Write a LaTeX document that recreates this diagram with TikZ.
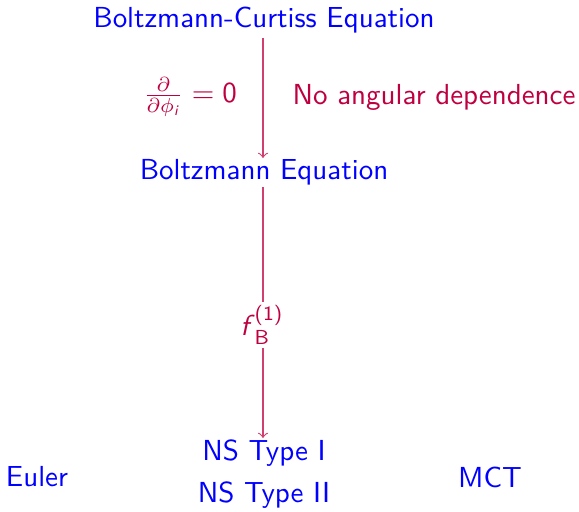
\documentclass[tikz,border=0pt]{standalone}
\usepackage{amsmath}
\usepackage[no-math]{fontspec}
\definecolor{myred}{RGB}{191,0,64}
\newcommand{\sv}[1]{\text{\sffamily\upshape #1}}
\newcommand{\si}[1]{\text{\sffamily\itshape #1\/}}
\tikzset{
  lbl/.style={text=blue, font=\sffamily, inner sep=1pt},
  rlbl/.style={text=myred, font=\sffamily, inner sep=1pt},
  conn/.style={draw=myred!75, line width=0.4pt, -to},
}
\begin{document}
\begin{tikzpicture}[x=0.345pt,y=-0.345pt]
\useasboundingbox (0,0) rectangle (579,512);
\node[lbl] (bc) at (264,20) {Boltzmann-Curtiss Equation};
\node[rlbl] (frac) at (190,97) {$\frac{\partial}{\partial\phi_{\si{i}}}=\sv{0}$};
\node[rlbl] (noang) at (434,97) {No angular dependence};
\node[lbl] (be) at (264,172) {Boltzmann Equation};
\node[rlbl, fill=white] (fb) at (262,325) {$\si{f}_{\sv{B}}^{\sv{(1)}}$};
\node[lbl] (ns1) at (264,453) {NS Type I};
\node[lbl] (ns2) at (264,495) {NS Type II};
\node[lbl] (euler) at (37,477) {Euler};
\node[lbl] (mct) at (490,477) {MCT};
\coordinate (s1) at (263,38);
\coordinate (t1) at (263,158);
\coordinate (s2) at (263,187);
\coordinate (t2) at (263,438);
\draw[conn] (s1) -- (t1);
\draw[conn, -] (s2) -- (s2 |- fb.north);
\draw[conn] (s2 |- fb.south) -- (t2);
\end{tikzpicture}
\end{document}
